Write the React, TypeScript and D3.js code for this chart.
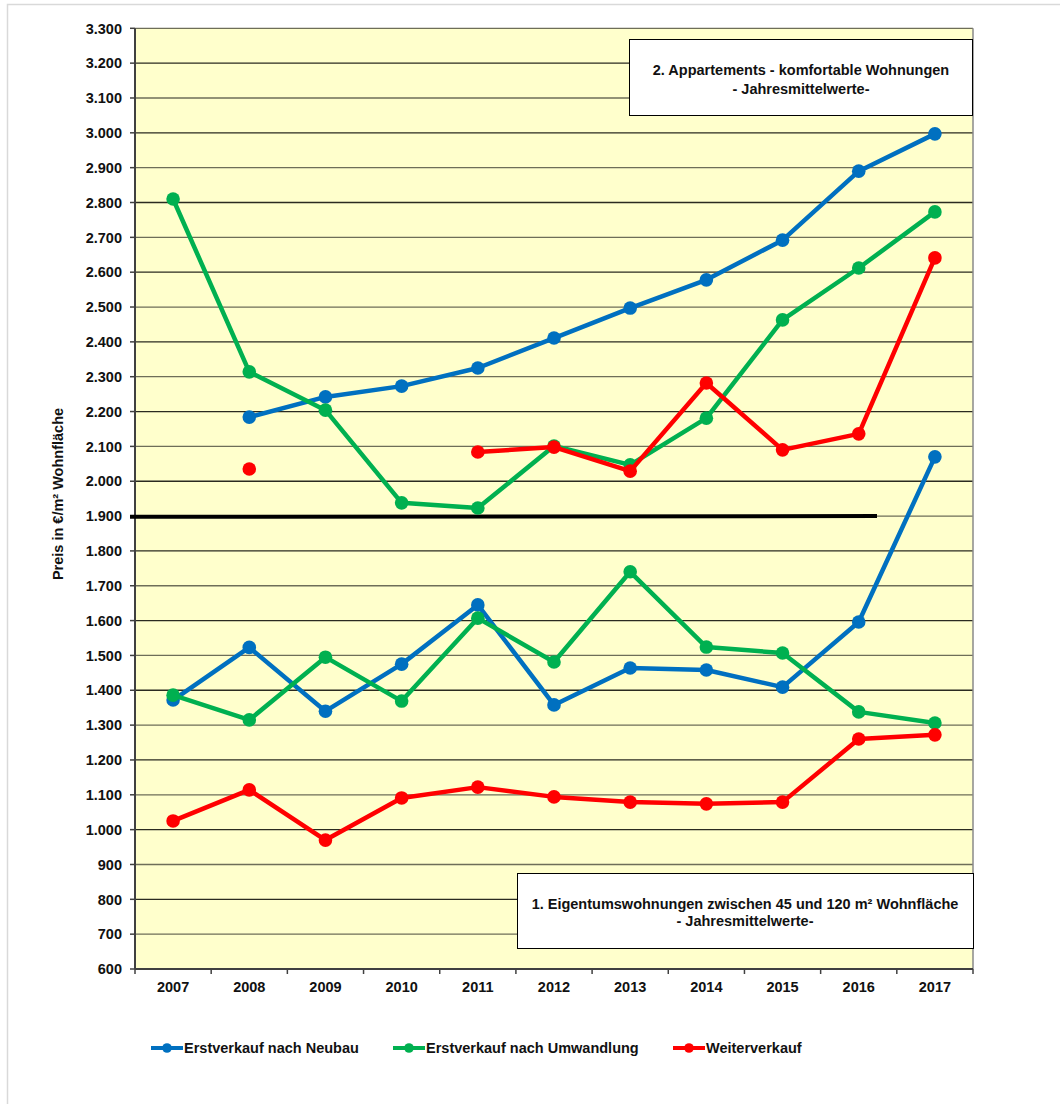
import React from "react";
import * as d3 from "d3";

const years = ["2007","2008","2009","2010","2011","2012","2013","2014","2015","2016","2017"];
const yTicks = [600,700,800,900,1000,1100,1200,1300,1400,1500,1600,1700,1800,1900,2000,2100,2200,2300,2400,2500,2600,2700,2800,2900,3000,3100,3200,3300];

// Upper section: 2. Appartements - komfortable Wohnungen
const neubauUpper: (number | null)[] = [null,2184,2242,2273,2325,2411,2497,2578,2692,2890,2997];
const umwandlungUpper: (number | null)[] = [2810,2314,2204,1938,1923,2101,2047,2181,2463,2612,2773];
const weiterUpper: (number | null)[] = [null,2035,null,null,2084,2098,2029,2282,2090,2136,2641];

// Lower section: 1. Eigentumswohnungen zwischen 45 und 120 m²
const neubauLower: (number | null)[] = [1372,1523,1340,1475,1645,1358,1464,1458,1409,1596,2070];
const umwandlungLower: (number | null)[] = [1386,1315,1495,1369,1607,1481,1740,1524,1507,1338,1306];
const weiterLower: (number | null)[] = [1025,1114,970,1091,1122,1094,1079,1074,1079,1260,1272];

const separatorValue = [1898, 1900];

const seriesNames = ["Erstverkauf nach Neubau","Erstverkauf nach Umwandlung","Weiterverkauf"];
const colors = ["#0070C0","#00B050","#FF0000"];

const W = 1060, H = 1104;
const left = 135, right = 973, top = 28.3, bottom = 969;
const font = "'Liberation Sans', Arial, sans-serif";
const fs = 14.5;

export default function App() {
  const x = d3.scaleBand<string>().domain(years).range([left, right]).paddingInner(0).paddingOuter(0);
  const y = d3.scaleLinear().domain([600, 3300]).range([bottom, top]);
  const cx = (i: number) => (x(years[i]) as number) + x.bandwidth() / 2;
  const line = d3.line<number | null>()
    .defined((d) => d != null)
    .x((_, i) => cx(i))
    .y((d) => y(d as number));

  const groups = [
    [neubauUpper, neubauLower],
    [umwandlungUpper, umwandlungLower],
    [weiterUpper, weiterLower],
  ];

  const gridColor = (v: number) => (v % 200 === 0 ? "#2b2b20" : "#6e6e58");

  return (
    <div style={{ position: "absolute", left: 0, top: 0 }}>
      <svg width={W} height={H} style={{ display: "block", fontFamily: font }}>
        <rect x={0} y={0} width={W} height={H} fill="#fff" />
        <rect x={7.5} y={4.5} width={W + 10} height={H + 10} fill="none" stroke="#d9d9d9" strokeWidth={1.5} />
        <rect x={left} y={top} width={right - left} height={bottom - top} fill="#FFFFCC" />
        {yTicks.slice(1).map((v) => (
          <line key={v} x1={left} x2={right} y1={y(v)} y2={y(v)} stroke={gridColor(v)} strokeWidth={1.3} />
        ))}
        <line x1={right} x2={right} y1={top} y2={bottom} stroke="#8a8a8a" strokeWidth={1.5} />
        <line x1={left} x2={left} y1={top} y2={bottom} stroke="#404040" strokeWidth={2} />
        <line x1={left} x2={right} y1={bottom} y2={bottom} stroke="#404040" strokeWidth={2} />
        {yTicks.map((v) => (
          <g key={"t" + v}>
            <line x1={left - 5} x2={left} y1={y(v)} y2={y(v)} stroke="#404040" strokeWidth={1.5} />
            <text x={left - 13} y={y(v)} dy="0.36em" textAnchor="end" fontSize={fs} fontWeight="bold" fill="#111">
              {d3.format(",")(v).replace(",", ".")}
            </text>
          </g>
        ))}
        {years.map((yr, i) => (
          <g key={yr}>
            <line x1={(x(yr) as number)} x2={(x(yr) as number)} y1={bottom} y2={bottom + 5} stroke="#404040" strokeWidth={1.5} />
            <text x={cx(i)} y={992} textAnchor="middle" fontSize={fs} fontWeight="bold" fill="#111">{yr}</text>
          </g>
        ))}
        <line x1={right} x2={right} y1={bottom} y2={bottom + 5} stroke="#404040" strokeWidth={1.5} />
        <text transform={`translate(63,494) rotate(-90)`} textAnchor="middle" fontSize={fs} fontWeight="bold" fill="#111">
          Preis in €/m² Wohnfläche
        </text>

        <line x1={130} x2={877} y1={y(separatorValue[0])} y2={y(separatorValue[1])} stroke="#000" strokeWidth={4} />

        {groups.map((g, si) =>
          g.map((data, k) => (
            <g key={si + "-" + k}>
              <path d={line(data) || ""} fill="none" stroke={colors[si]} strokeWidth={4.5} strokeLinejoin="round" />
              {data.map((d, i) =>
                d == null ? null : <circle key={i} cx={cx(i)} cy={y(d)} r={6.8} fill={colors[si]} />
              )}
            </g>
          ))
        )}

        <rect x={629.5} y={39.5} width={343} height={76} fill="#fff" stroke="#000" strokeWidth={1} />
        <text x={801} y={75} textAnchor="middle" fontSize={fs} fontWeight="bold" fill="#111">2. Appartements - komfortable Wohnungen</text>
        <text x={801} y={94} textAnchor="middle" fontSize={fs} fontWeight="bold" fill="#111">- Jahresmittelwerte-</text>

        <rect x={517.5} y={873.5} width={456} height={75} fill="#fff" stroke="#000" strokeWidth={1} />
        <text x={745} y={909} textAnchor="middle" fontSize={fs} fontWeight="bold" fill="#111">1. Eigentumswohnungen zwischen 45 und 120 m² Wohnfläche</text>
        <text x={745} y={926} textAnchor="middle" fontSize={fs} fontWeight="bold" fill="#111">- Jahresmittelwerte-</text>

        {seriesNames.map((name, i) => {
          const lx = [151, 393, 673][i];
          return (
            <g key={name}>
              <line x1={lx} x2={lx + 32} y1={1048} y2={1048} stroke={colors[i]} strokeWidth={4} />
              <circle cx={lx + 16} cy={1048} r={4.8} fill={colors[i]} />
              <text x={lx + 33} y={1048} dy="0.36em" fontSize={fs} fontWeight="bold" fill="#111">{name}</text>
            </g>
          );
        })}
      </svg>
    </div>
  );
}
